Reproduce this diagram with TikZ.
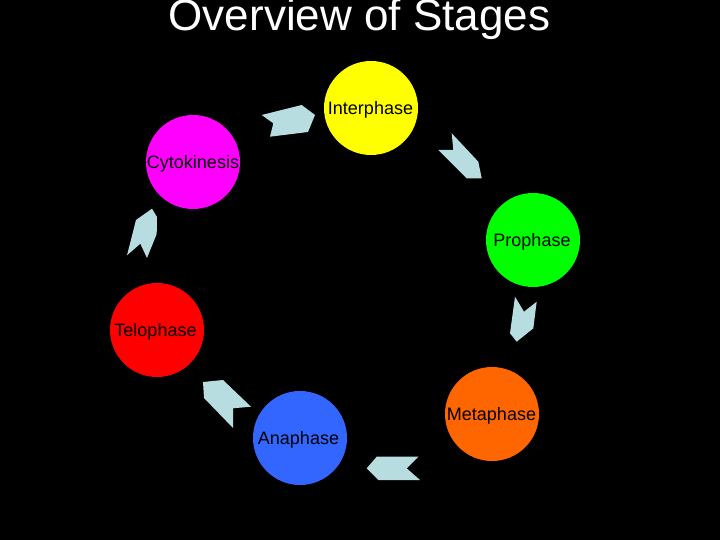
\documentclass[tikz,border=0pt]{standalone}
\usepackage{fontspec}
\setmainfont{Liberation Sans}
\definecolor{arrowblue}{RGB}{183,221,224}
\definecolor{stageorange}{RGB}{255,102,0}
\definecolor{stageblue}{RGB}{51,102,255}
\definecolor{stagemagenta}{RGB}{255,0,255}
\definecolor{stageyellow}{RGB}{255,255,0}
\definecolor{stagegreen}{RGB}{0,255,0}
\definecolor{stagered}{RGB}{255,0,0}
\begin{document}
\begin{tikzpicture}[x=1pt,y=-1pt,
  stage/.style={circle,minimum size=94pt,inner sep=0pt,draw=none},
  lbl/.style={font=\fontsize{18}{18}\selectfont,text=black,anchor=center,inner sep=0pt},
  chev/.style={fill=arrowblue,draw=none}]
\fill[black] (0,0) rectangle (720,540);
\useasboundingbox (0,0) rectangle (720,540);
\node[font=\fontsize{44}{44}\selectfont,text=white,anchor=base] (title) at (359.5,31) {Overview of Stages};
% stages
\node[stage,fill=stageyellow] (inter) at (371,108) {};
\node[stage,fill=stagemagenta] (cyto) at (193,162) {};
\node[stage,fill=stagegreen] (pro) at (533,240) {};
\node[stage,fill=stagered] (telo) at (157,330) {};
\node[stage,fill=stageorange] (meta) at (492,414) {};
\node[stage,fill=stageblue] (ana) at (300,438) {};
% labels
\node[lbl] (linter) at (370.5,110) {Interphase};
\node[lbl] (lcyto) at (193,164) {Cytokinesis};
\node[lbl] (lpro) at (532,242) {Prophase};
\node[lbl] (ltelo) at (155.5,332) {Telophase};
\node[lbl] (lmeta) at (491.5,416) {Metaphase};
\node[lbl] (lana) at (298.5,440) {Anaphase};
% chevrons
\fill[chev] (261.7,115) -- (301.7,105) -- (315,115) -- (308,132) -- (270,136.7) -- (273.3,123.3) -- cycle;
\fill[chev] (451.7,133.3) -- (478.3,161.7) -- (481.7,178.3) -- (466.7,178.3) -- (438.3,150) -- (453.3,150) -- cycle;
\fill[chev] (515,296.7) -- (524,311.7) -- (536.7,301.7) -- (533.3,328.3) -- (516.7,341.7) -- (510,333.3) -- cycle;
\fill[chev] (366.7,468.3) -- (376.7,456.7) -- (418.3,456.7) -- (406.7,468.3) -- (420,480) -- (378.3,480) -- cycle;
\fill[chev] (203,382) -- (223,380) -- (251,406.7) -- (233,408.3) -- (233,428) -- (204,398) -- cycle;
\fill[chev] (152,208.7) -- (157,217) -- (156.7,234) -- (147,258) -- (140.3,243.7) -- (127,255.3) -- (136,220) -- cycle;
\end{tikzpicture}
\end{document}
